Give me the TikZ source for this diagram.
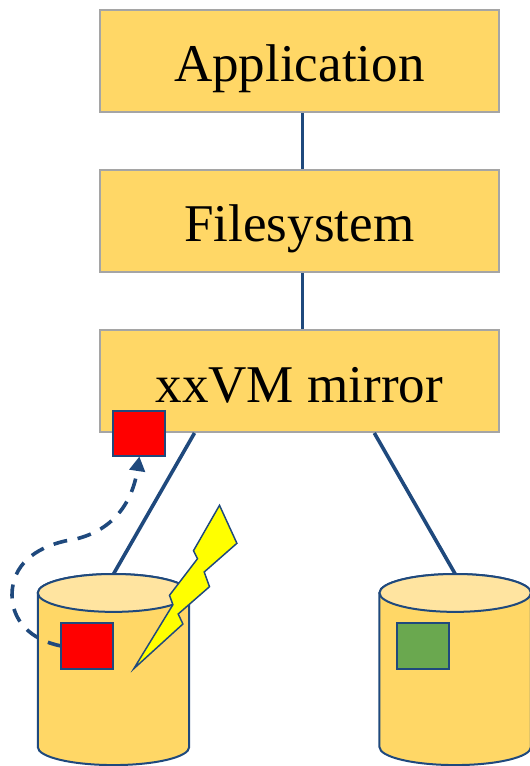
\documentclass[tikz,border=0pt]{standalone}
\usepackage{fontspec}
\setmainfont{Liberation Serif}
\usetikzlibrary{arrows.meta}
\definecolor{boxfill}{HTML}{FFD766}
\definecolor{boxedge}{HTML}{A5A5A5}
\definecolor{navy}{HTML}{1F497D}
\definecolor{disktop}{HTML}{FFE4A0}
\definecolor{okgreen}{HTML}{6AA84F}
\definecolor{boltyellow}{HTML}{FFFF00}
\definecolor{blockred}{HTML}{FF0000}
\tikzset{
  layerbox/.style={draw=boxedge,fill=boxfill,line width=1.4pt,minimum width=299.6pt,minimum height=76.5pt,inner sep=0pt,
    font=\fontsize{39.8pt}{44pt}\selectfont,text height=31.5pt,text depth=0pt},
  link/.style={draw=navy,line width=2.7pt},
  diskbody/.style={draw=navy,fill=boxfill,line width=1.5pt},
  disklid/.style={draw=navy,fill=disktop,line width=1.5pt},
  diskspace/.style={minimum width=113.6pt,minimum height=144pt,inner sep=0pt,outer sep=0pt},
  block/.style={draw=navy,line width=1.5pt,minimum width=39pt,minimum height=34.2pt,inner sep=0pt,outer sep=0pt},
  copyarrow/.style={draw=navy,line width=2.7pt,dash pattern=on 10.5pt off 8pt,-{Triangle[length=11pt,width=11.5pt]}},
  bolt/.style={draw=navy,fill=boltyellow,line width=1.1pt,line join=miter}
}
\newcommand{\drawdisk}[1]{%
  \path[diskbody] (#1.north west)++(0,-14.2pt) -- ([yshift=14.2pt]#1.south west)
    arc[x radius=56.8pt,y radius=13.5pt,start angle=180,end angle=360]
    -- ([yshift=-14.2pt]#1.north east)
    arc[x radius=56.8pt,y radius=14.2pt,start angle=0,end angle=180] -- cycle;
  \path[disklid] ([yshift=-14.2pt]#1.north west)
    arc[x radius=56.8pt,y radius=14.2pt,start angle=180,end angle=-180] -- cycle;
}
\begin{document}
\begin{tikzpicture}[x=0.75pt,y=-0.75pt]
\useasboundingbox (0,0) rectangle (529,766);
\node[layerbox] (app) at (299.3,61) {Application};
\node[layerbox] (fs) at (299.3,221) {Filesystem};
\node[layerbox] (mirror) at (299.3,381) {xxVM mirror};
\node[diskspace] (disk1) at (113.5,670) {};
\node[diskspace] (disk2) at (455.2,670) {};
\coordinate (lane) at (302.5,0);
\coordinate (legL) at (194.5,433);
\coordinate (legR) at (374.3,433);
\draw[link] (app.south -| lane) -- (fs.north -| lane);
\draw[link] (fs.south -| lane) -- (mirror.north -| lane);
\draw[link] (legL) -- (disk1.north);
\draw[link] (legR) -- (disk2.north);
\drawdisk{disk1}
\drawdisk{disk2}
\node[block,fill=blockred] (cached) at (139.4,433.6) {};
\node[block,fill=blockred] (bad) at (87.4,646) {};
\node[block,fill=okgreen] (good) at (423.4,646) {};
\draw[copyarrow] (bad.west) .. controls (30,640) and (12,620) .. (12,595)
  .. controls (12,565) and (35,548) .. (65,541)
  .. controls (110,535) and (132,505) .. (cached.south);
\path[bolt] (219.5,505.3) -- (236.9,543.3) -- (204.2,572) -- (209.5,586.7) -- (178.2,614) -- (182.9,624)
  -- (133.8,668.7) -- (172.9,604.7) -- (169.5,595.3) -- (197.5,558.7) -- (193.5,550.7) -- cycle;
\end{tikzpicture}
\end{document}
